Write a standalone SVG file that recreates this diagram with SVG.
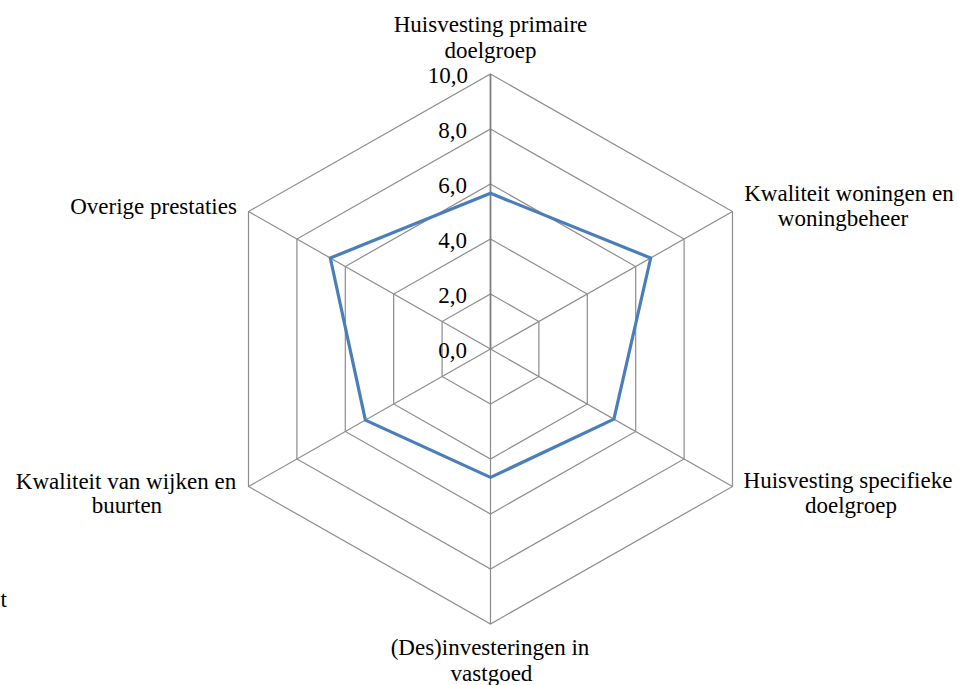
<svg xmlns="http://www.w3.org/2000/svg" width="959" height="685" viewBox="0 0 959 685" font-family="'Liberation Serif', 'DejaVu Serif', serif" font-size="23">
<style>
.grid{fill:none;stroke:#8c8c8c;stroke-width:1.2}
.axis{stroke:#8c8c8c;stroke-width:1.2}
.vaxis{stroke:#7f7f7f;stroke-width:1.8}
.series{fill:none;stroke:#4a7ebb;stroke-width:3.2;stroke-linejoin:round}
text{font-family:'Liberation Serif','DejaVu Serif',serif;font-size:23px;fill:#000}
.tick{text-anchor:end}
.lbl{text-anchor:middle}
</style>
<rect width="959" height="685" fill="#fff"/>
<g id="grid">
<polygon class="grid" points="490.5,74 732.5,211.5 732.5,486.5 490.5,624 248.5,486.5 248.5,211.5"/>
<polygon class="grid" points="490.5,129 684.1,239 684.1,459 490.5,569 296.9,459 296.9,239"/>
<polygon class="grid" points="490.5,184 635.7,266.5 635.7,431.5 490.5,514 345.3,431.5 345.3,266.5"/>
<polygon class="grid" points="490.5,239 587.3,294 587.3,404 490.5,459 393.7,404 393.7,294"/>
<polygon class="grid" points="490.5,294 538.9,321.5 538.9,376.5 490.5,404 442.1,376.5 442.1,321.5"/>
</g>
<g id="connectors">
<line class="axis" x1="490.5" y1="349" x2="732.5" y2="211.5"/>
<line class="axis" x1="490.5" y1="349" x2="732.5" y2="486.5"/>
<line class="axis" x1="490.5" y1="349" x2="490.5" y2="624"/>
<line class="axis" x1="490.5" y1="349" x2="248.5" y2="486.5"/>
<line class="axis" x1="490.5" y1="349" x2="248.5" y2="211.5"/>
<line class="vaxis" x1="490.5" y1="349" x2="490.5" y2="74"/>
</g>
<g id="ticks">
<text class="tick" x="468" y="83">10,0</text>
<text class="tick" x="467" y="138">8,0</text>
<text class="tick" x="467" y="193">6,0</text>
<text class="tick" x="467" y="248">4,0</text>
<text class="tick" x="467" y="303">2,0</text>
<text class="tick" x="467" y="358">0,0</text>
</g>
<g id="series">
<polygon class="series" points="490.5,193.3 650.7,258 613.9,419.1 490.5,477.4 365.4,420.1 330.3,258"/>
</g>
<g id="label-huisvesting-primaire">
<text class="lbl" x="490.5" y="32">Huisvesting primaire</text>
<text class="lbl" x="490.5" y="58">doelgroep</text>
</g>
<g id="label-kwaliteit-woningen">
<text class="lbl" x="849" y="201">Kwaliteit woningen en</text>
<text class="lbl" x="843" y="226">woningbeheer</text>
</g>
<g id="label-huisvesting-specifieke">
<text class="lbl" x="848" y="488">Huisvesting specifieke</text>
<text class="lbl" x="851" y="513">doelgroep</text>
</g>
<g id="label-desinvesteringen">
<text class="lbl" x="490" y="655">(Des)investeringen in</text>
<text class="lbl" x="491.5" y="680.5">vastgoed</text>
</g>
<g id="label-kwaliteit-wijken">
<text class="lbl" x="126" y="489">Kwaliteit van wijken en</text>
<text class="lbl" x="127" y="513">buurten</text>
</g>
<g id="label-overige">
<text class="lbl" x="153.5" y="214">Overige prestaties</text>
</g>
<g id="stray">
<text x="0.5" y="607">t</text>
</g>
</svg>
